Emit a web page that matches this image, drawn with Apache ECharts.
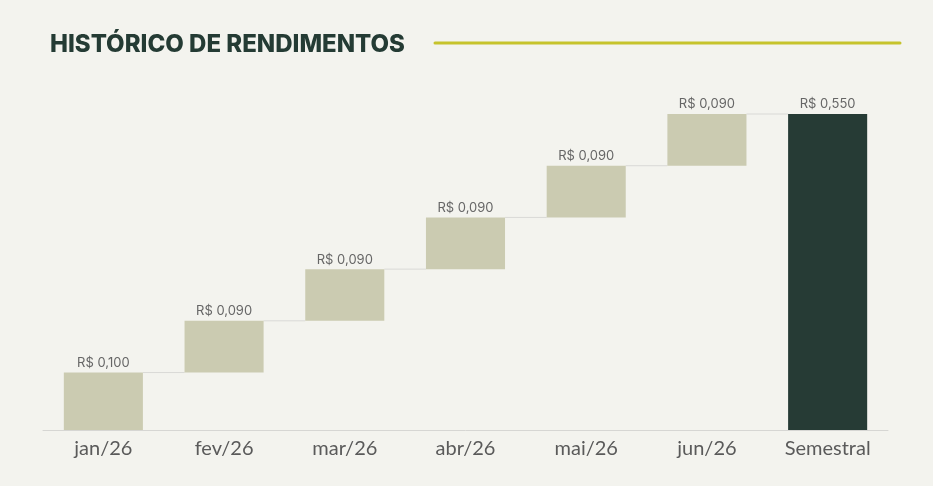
<!DOCTYPE html>
<html><head><meta charset="utf-8">
<script src="https://cdn.jsdelivr.net/npm/echarts@6/dist/echarts.min.js"></script>
<style>html,body{margin:0;padding:0;background:#f3f3ee;}#c{width:933px;height:486px;}</style>
</head><body><div id="c"></div>
<script>
var titleText = 'HISTÓRICO DE RENDIMENTOS';
var categories = ['jan/26','fev/26','mar/26','abr/26','mai/26','jun/26','Semestral'];
var monthly = [0.100, 0.090, 0.090, 0.090, 0.090, 0.090];
var total = 0.550;
var labels = ['R$ 0,100','R$ 0,090','R$ 0,090','R$ 0,090','R$ 0,090','R$ 0,090','R$ 0,550'];

var base = [], vis = [], cum = [], run = 0;
for (var i = 0; i < monthly.length; i++) {
  base.push(run);
  run += monthly[i];
  cum.push(run);
  vis.push(monthly[i]);
}
base.push(0);
vis.push({value: total, itemStyle: {color: '#263b35'}});
var levels = cum.slice();

var chart = echarts.init(document.getElementById('c'));
chart.setOption({
  backgroundColor: '#f3f3ee',
  animation: false,
  title: {
    text: titleText, left: 45, top: 28,
    textStyle: {fontFamily: 'Inter', fontWeight: 800, fontSize: 24, color: '#243b34'}
  },
  graphic: [{
    type: 'line', shape: {x1: 435, y1: 43, x2: 900, y2: 43},
    style: {stroke: '#c6c32c', lineWidth: 3, lineCap: 'round'}
  }],
  grid: {left: 43, right: 45, top: 114, bottom: 56},
  xAxis: {
    type: 'category', data: categories,
    axisLine: {lineStyle: {color: '#d6d6d3', width: 1}},
    axisTick: {show: false},
    axisLabel: {color: '#5a5a5a', fontFamily: 'Lato', fontSize: 20, margin: 9}
  },
  yAxis: {type: 'value', min: 0, max: total, show: false, splitLine: {show: false}},
  series: [
    {type: 'bar', stack: 'w', data: base, itemStyle: {color: 'transparent'}, barWidth: '65.5%', silent: true},
    {type: 'bar', stack: 'w', data: vis, barWidth: '65.5%',
     itemStyle: {color: '#cbcbb1'},
     label: {show: true, position: 'top', distance: 3, color: '#666666', fontFamily: 'Inter', fontSize: 13,
       formatter: function (p) { return labels[p.dataIndex]; }}},
    {type: 'custom', data: levels.map(function (v, i) { return [i, v]; }),
     renderItem: function (params, api) {
       var i = api.value(0), v = api.value(1);
       var p1 = api.coord([i, v]), p2 = api.coord([i + 1, v]);
       var bw = api.size([1, 0])[0] * 0.655;
       return {type: 'line', shape: {x1: p1[0] + bw / 2, y1: p1[1], x2: p2[0] - bw / 2, y2: p2[1]},
         style: {stroke: '#d9d9d6', lineWidth: 1}};
     }, z: 1}
  ]
});
</script></body></html>
